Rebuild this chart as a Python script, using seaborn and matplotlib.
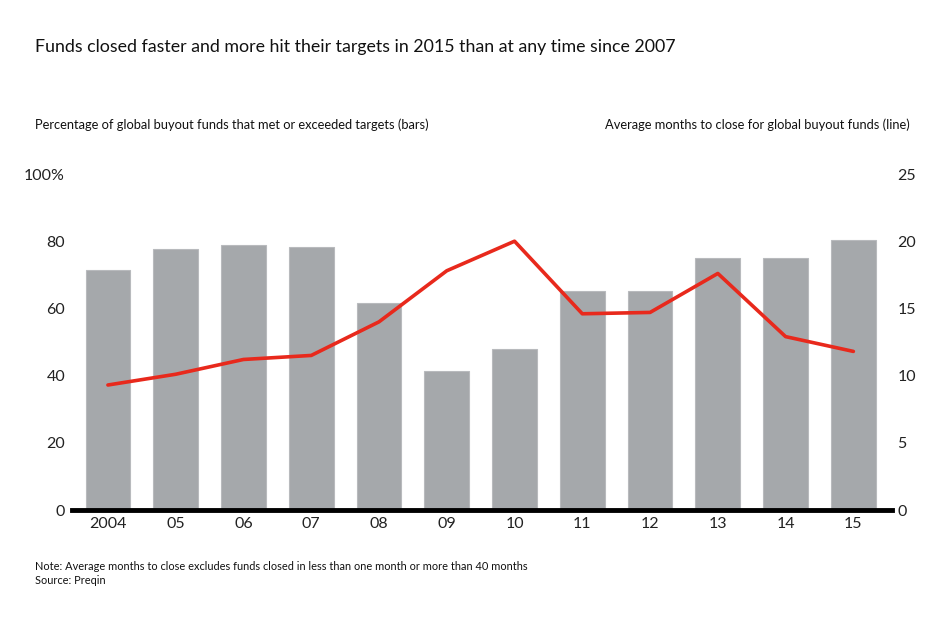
import matplotlib
matplotlib.use("Agg")
import matplotlib.pyplot as plt
import seaborn as sns
import pandas as pd

years = ["2004", "05", "06", "07", "08", "09", "10", "11", "12", "13", "14", "15"]
pct_met_target = [71.4, 77.7, 78.9, 78.3, 61.6, 41.4, 47.9, 65.2, 65.2, 75.0, 75.0, 80.4]
months_to_close = [9.3, 10.1, 11.2, 11.5, 14.0, 17.8, 20.0, 14.6, 14.7, 17.6, 12.9, 11.8]
left_ticks = [0, 20, 40, 60, 80, 100]
left_labels = ["0", "20", "40", "60", "80", "100%"]
right_ticks = [0, 5, 10, 15, 20, 25]

df = pd.DataFrame({"year": years, "pct": pct_met_target, "months": months_to_close})

sns.set_theme(style="white")
plt.rcParams["font.family"] = ["Lato", "DejaVu Sans"]

fig = plt.figure(figsize=(9.5, 6.28), dpi=100)
ax = fig.add_axes([72/950, 1-510/628, 820/950, 336/628])

sns.barplot(data=df, x="year", y="pct", ax=ax, color="#a5a8ab", width=0.66,
            saturation=1, edgecolor="#b8babd", linewidth=0.8)
ax.set_ylim(0, 100)
ax.set_xlim(-0.53, 11.57)
ax.set_yticks(left_ticks)
ax.set_yticklabels(left_labels)
ax.set_xlabel("")
ax.set_ylabel("")
for s in ["top", "right", "left"]:
    ax.spines[s].set_visible(False)
ax.spines["bottom"].set_color("black")
ax.spines["bottom"].set_linewidth(3.5)
ax.tick_params(axis="both", length=0, labelsize=11.5, colors="#222222")
ax.tick_params(axis="y", pad=5)
ax.tick_params(axis="x", pad=5)

ax2 = ax.twinx()
sns.lineplot(data=df, x="year", y="months", ax=ax2, color="#e8291c", linewidth=2.6)
ax2.set_ylim(0, 25)
ax2.set_yticks(right_ticks)
ax2.set_ylabel("")
for s in ["top", "right", "left", "bottom"]:
    ax2.spines[s].set_visible(False)
ax2.tick_params(axis="y", length=0, labelsize=11.5, colors="#222222", pad=4)
ax.set_xlim(-0.53, 11.57)

fig.text(35/950, 1-47/628, "Funds closed faster and more hit their targets in 2015 than at any time since 2007",
         fontsize=12.8, va="center", ha="left", color="#111111")
fig.text(35/950, 1-125/628, "Percentage of global buyout funds that met or exceeded targets (bars)",
         fontsize=9.3, va="center", ha="left", color="#111111")
fig.text(910/950, 1-125/628, "Average months to close for global buyout funds (line)",
         fontsize=9.3, va="center", ha="right", color="#111111")
fig.text(35/950, 1-566/628, "Note: Average months to close excludes funds closed in less than one month or more than 40 months",
         fontsize=7.9, va="center", ha="left", color="#111111")
fig.text(35/950, 1-581/628, "Source: Preqin",
         fontsize=7.9, va="center", ha="left", color="#111111")

fig.savefig("out.png", dpi=100, facecolor="white")
